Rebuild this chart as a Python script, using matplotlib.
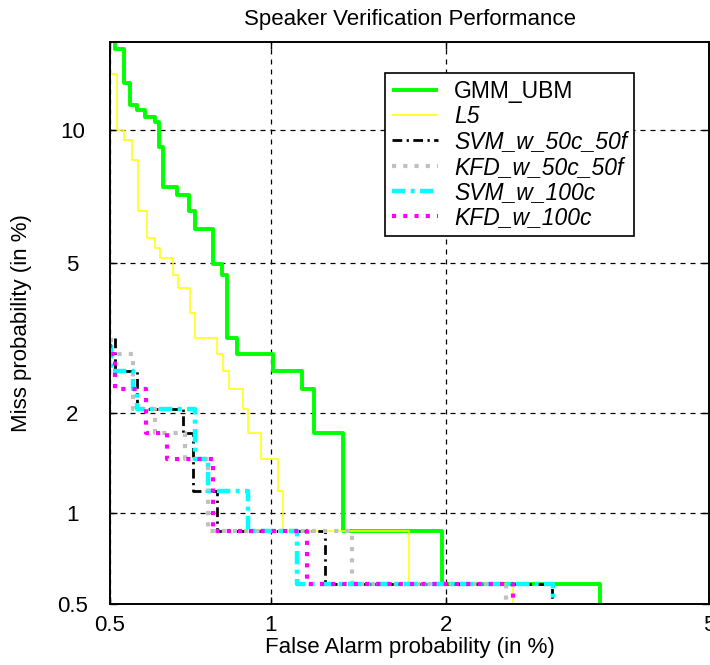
import math
from statistics import NormalDist

import numpy as np
import matplotlib
matplotlib.use("Agg")
import matplotlib.pyplot as plt

# ---------------- data (percent) ----------------
x_ticks = [0.5, 1, 2, 5]
x_tick_labels = ["0.5", "1", "2", "5"]
y_ticks = [0.5, 1, 2, 5, 10]
y_tick_labels = ["0.5", "1", "2", "5", "10"]

series_names = ["GMM_UBM", "L5", "SVM_w_50c_50f", "KFD_w_50c_50f",
                "SVM_w_100c", "KFD_w_100c"]

gmm_fa = [0.511, 0.533, 0.548, 0.565, 0.584, 0.612, 0.622, 0.633, 0.673, 0.709,
          0.728, 0.786, 0.817, 0.835, 0.871, 1.012, 1.139, 1.197, 1.344, 1.968,
          3.482, 3.482]
gmm_miss = [16.0, 14.47, 12.46, 11.27, 11.0, 10.65, 10.4, 9.22, 7.54, 7.24,
            6.65, 6.04, 4.97, 4.68, 3.22, 2.92, 2.63, 2.34, 1.75, 0.877,
            0.585, 0.3]

l5_fa = [0.501, 0.516, 0.532, 0.551, 0.567, 0.590, 0.612, 0.625, 0.661, 0.676,
         0.712, 0.728, 0.800, 0.820, 0.842, 0.893, 0.912, 0.963, 1.033, 1.054,
         1.736, 2.562, 2.562]
l5_miss = [16.0, 12.97, 10.0, 9.55, 8.65, 6.65, 5.75, 5.44, 5.15, 4.68,
           4.34, 3.75, 3.22, 2.92, 2.63, 2.34, 2.05, 1.75, 1.46, 1.17,
           0.877, 0.585, 0.3]

svm50_fa = [0.511, 0.563, 0.691, 0.721, 0.800, 1.251, 2.945, 2.945]
svm50_miss = [3.22, 2.63, 2.05, 1.75, 1.17, 0.877, 0.585, 0.3]

kfd50_fa = [0.502, 0.553, 0.612, 0.697, 0.769, 1.389, 2.496, 2.496]
kfd50_miss = [3.22, 2.92, 2.05, 1.75, 1.46, 0.877, 0.585, 0.3]

svm100_fa = [0.502, 0.553, 0.565, 0.728, 0.769, 0.912, 1.116, 2.953, 2.953]
svm100_miss = [3.09, 2.63, 2.34, 2.05, 1.46, 1.17, 0.877, 0.585, 0.3]

kfd100_fa = [0.501, 0.511, 0.588, 0.644, 0.786, 1.163, 2.562, 2.562]
kfd100_miss = [3.1, 2.92, 2.34, 1.75, 1.46, 0.877, 0.585, 0.3]

# ---------------- normal-deviate (probit) scale ----------------
_ND = NormalDist()


def _inv1(q):
    if not np.isfinite(q):
        return np.nan
    q = min(max(q, 1e-9), 1 - 1e-9)
    return _ND.inv_cdf(q)


def _cdf1(z):
    if np.isnan(z):
        return np.nan
    return 50.0 * math.erfc(-z / math.sqrt(2.0))


_vinv = np.vectorize(_inv1, otypes=[float])
_vcdf = np.vectorize(_cdf1, otypes=[float])


def probit_forward(p):
    p = np.asarray(p, dtype=float)
    if p.size == 0:
        return p
    return _vinv(p / 100.0)


def probit_inverse(z):
    z = np.asarray(z, dtype=float)
    if z.size == 0:
        return z
    return _vcdf(z)


# ---------------- figure ----------------
plt.rcParams['font.family'] = ['Liberation Sans', 'DejaVu Sans']
FS = 16
LFS = 16.5

fig = plt.figure(figsize=(7.1, 6.65), dpi=100)
ax = fig.add_axes([110 / 710, 1 - 604 / 665, 599 / 710, 562 / 665])
ax.set_xscale('function', functions=(probit_forward, probit_inverse))
ax.set_yscale('function', functions=(probit_forward, probit_inverse))

styles = [
    dict(color='#00ff00', lw=2.8, ls='-'),
    dict(color='#ffff00', lw=1.1, ls='-'),
    dict(color='black', lw=2.0, ls=(0, (3.5, 1.6, 0.8, 1.6))),
    dict(color='#c0c0c0', lw=3.0, ls=(0, (1, 1.7))),
    dict(color='#00ffff', lw=3.2, ls=(0, (3.0, 1.2, 0.9, 1.2))),
    dict(color='#ff00ff', lw=3.0, ls=(0, (1, 1.7))),
]
data = [(gmm_fa, gmm_miss), (l5_fa, l5_miss), (svm50_fa, svm50_miss),
        (kfd50_fa, kfd50_miss), (svm100_fa, svm100_miss),
        (kfd100_fa, kfd100_miss)]

for (fa, miss), name, st in zip(data, series_names, styles):
    ax.plot(fa, miss, drawstyle='steps-pre', label=name,
            solid_capstyle='butt', dash_capstyle='butt', **st)

ax.set_xlim(0.5, 5.0)
ax.set_ylim(0.5, 14.9)

ax.set_xticks(x_ticks, x_tick_labels)
ax.set_yticks(y_ticks, y_tick_labels, ha='center')
ax.minorticks_off()
ax.tick_params(axis='both', direction='in', length=5, width=1,
               top=True, right=True, labelsize=FS, color='black')
ax.tick_params(axis='y', pad=27)
ax.tick_params(axis='x', pad=8)

ax.set_axisbelow(True)
ax.grid(True, color='black', linestyle=(0, (4, 4)), linewidth=0.9)
for sp in ax.spines.values():
    sp.set_linewidth(1.4)
    sp.set_color('black')

ax.set_title("Speaker Verification Performance", fontsize=FS, pad=12)
ax.set_xlabel("False Alarm probability (in %)", fontsize=FS)
ax.set_ylabel("Miss probability (in %)", fontsize=FS)
ax.xaxis.set_label_coords(0.5, -0.058)
ax.yaxis.set_label_coords(-0.13, 0.5)

leg = ax.legend(loc='upper right', bbox_to_anchor=(0.875, 0.945),
                fancybox=False, edgecolor='black', framealpha=1,
                fontsize=LFS, handlelength=2.0, handletextpad=0.7,
                labelspacing=0.1, borderpad=0.3, borderaxespad=0.0)
leg.get_frame().set_linewidth(1.2)
for i, t in enumerate(leg.get_texts()):
    if i > 0:
        t.set_style('italic')

fig.savefig("out.png", dpi=100)
